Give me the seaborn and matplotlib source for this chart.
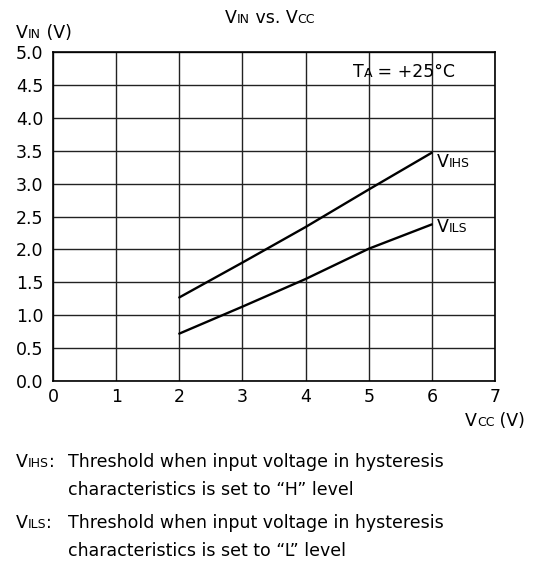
import matplotlib
matplotlib.use("Agg")
import matplotlib.pyplot as plt
import pandas as pd
import seaborn as sns

# datos
vcc = [2, 3, 4, 5, 6]
vihs = [1.27, 1.80, 2.34, 2.91, 3.47]
vils = [0.72, 1.13, 1.55, 2.01, 2.38]
x_ticks = [0, 1, 2, 3, 4, 5, 6, 7]
y_ticks = [0.0, 0.5, 1.0, 1.5, 2.0, 2.5, 3.0, 3.5, 4.0, 4.5, 5.0]

W, H = 542, 568
FS = 12.5
SUB = 9


def rich(fig, x, y, parts, color="black"):
    """Dibuja trozos de texto seguidos (x, y en píxeles desde arriba-izquierda)."""
    renderer = fig.canvas.get_renderer()
    cx = x
    for s, size in parts:
        t = fig.text(cx / W, 1 - y / H, s, fontsize=size, color=color,
                     ha="left", va="baseline")
        bb = t.get_window_extent(renderer=renderer)
        cx += bb.width


if __name__ == "__main__":
    df = pd.DataFrame({
        "vcc": vcc * 2,
        "vin": vihs + vils,
        "serie": ["VIHS"] * len(vcc) + ["VILS"] * len(vcc),
    })

    sns.set_theme(style="white")
    plt.rcParams["font.family"] = ["DejaVu Sans"]

    fig = plt.figure(figsize=(W / 100, H / 100), dpi=100)
    ax = fig.add_axes([53 / W, 1 - 381 / H, (495 - 53) / W, (381 - 52) / H])

    sns.lineplot(data=df, x="vcc", y="vin", units="serie", estimator=None,
                 color="black", linewidth=1.7, ax=ax, legend=False)

    ax.set_xlim(0, 7)
    ax.set_ylim(0, 5)
    ax.set_xticks(x_ticks)
    ax.set_yticks(y_ticks)
    ax.set_xticklabels([str(v) for v in x_ticks])
    ax.set_yticklabels([f"{v:.1f}" for v in y_ticks])
    ax.tick_params(axis="both", length=0, labelsize=FS, colors="black")
    ax.tick_params(axis="y", pad=7)
    ax.tick_params(axis="x", pad=5)
    ax.grid(True, color="#222222", linewidth=1.0)
    for sp in ax.spines.values():
        sp.set_color("black")
        sp.set_linewidth(1.2)
    ax.set_xlabel("")
    ax.set_ylabel("")

    fig.canvas.draw()
    rich(fig, 16, 37.7, [("V", FS), ("IN", SUB), (" (V)", FS)])
    rich(fig, 225, 23.3, [("V", FS), ("IN", SUB), (" vs. V", FS), ("CC", SUB)])
    rich(fig, 353, 77.3, [("T", FS), ("A", SUB), (" = +25°C", FS)])
    rich(fig, 437, 166.7, [("V", FS), ("IHS", SUB)])
    rich(fig, 437, 232.3, [("V", FS), ("ILS", SUB)])
    rich(fig, 465, 426, [("V", FS), ("CC", SUB), (" (V)", FS)])

    rich(fig, 16, 467, [("V", FS), ("IHS", SUB), (":", FS)])
    rich(fig, 68, 467, [("Threshold when input voltage in hysteresis", FS)])
    rich(fig, 68, 495, [("characteristics is set to \u201cH\u201d level", FS)])
    rich(fig, 16, 528, [("V", FS), ("ILS", SUB), (":", FS)])
    rich(fig, 68, 528, [("Threshold when input voltage in hysteresis", FS)])
    rich(fig, 68, 556, [("characteristics is set to \u201cL\u201d level", FS)])

    fig.savefig("out.png", dpi=100, facecolor="white")
